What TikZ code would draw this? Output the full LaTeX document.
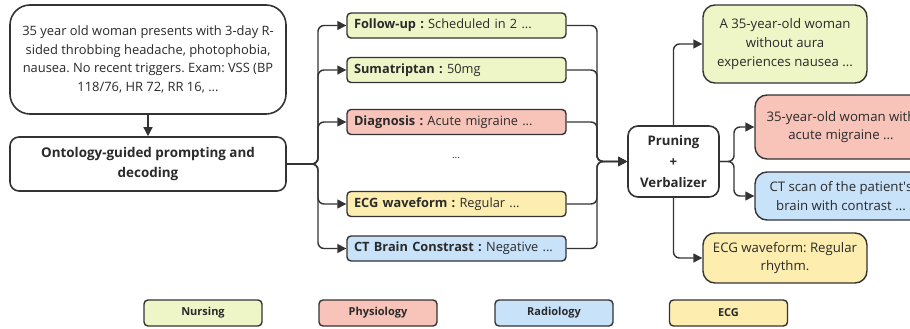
\documentclass[tikz,border=0pt]{standalone}
\usepackage{fontspec}
\setmainfont{Open Sans}
\usetikzlibrary{arrows.meta}
\frenchspacing
\definecolor{cnurse}{HTML}{EEF6C8}
\definecolor{cphys}{HTML}{F8C4BA}
\definecolor{crad}{HTML}{C8E2FA}
\definecolor{cecg}{HTML}{FDEEB0}
\definecolor{cline}{HTML}{333333}
\definecolor{ctext}{HTML}{2A2A2A}
\begin{document}
\begin{tikzpicture}[x=1pt,y=-1pt,text=ctext,
  box/.style={draw=cline,line width=1.6pt,fill=white,align=center,inner sep=2pt},
  midbox/.style={draw=cline,line width=1.4pt,rounded corners=4pt,minimum width=219pt,minimum height=25pt,text width=205pt,align=left,inner xsep=7pt,font=\fontsize{12.8}{15}\selectfont},
  outbox/.style={draw=cline,line width=1.4pt,rounded corners=12pt,align=center,font=\fontsize{13.2}{18.8}\selectfont},
  legbox/.style={draw=cline,line width=1.4pt,rounded corners=4pt,minimum width=118pt,minimum height=26pt,font=\fontsize{11}{12}\selectfont\bfseries},
  conn/.style={draw=cline,line width=1.4pt,rounded corners=6pt},
  arr/.style={conn,-{Triangle[length=9pt,width=9pt]}}
]
\useasboundingbox (0,0) rectangle (910,329);
\clip (0,0) rectangle (910,329);

\node[box,rounded corners=20pt,minimum width=276pt,minimum height=109pt,font=\fontsize{12.9}{18.5}\selectfont] (top) at (148,59.5)
  {35 year old woman presents with 3-day R-\\sided throbbing headache, photophobia,\\nausea. No recent triggers. Exam: VSS (BP\\118/76, HR 72, RR 16, ...};
\node[box,rounded corners=9pt,minimum width=276pt,minimum height=54pt,font=\fontsize{13.4}{20}\selectfont\bfseries] (onto) at (148,164)
  {Ontology-guided prompting and\\decoding};
\draw[arr] (top.south) -- (onto.north);

\node[midbox,fill=cnurse] (fu) at (456.5,25.5) {\textbf{Follow-up :}\ Scheduled in 2 ...};
\node[midbox,fill=cnurse] (su) at (456.5,70) {\textbf{Sumatriptan :}\ 50mg};
\node[midbox,fill=cphys] (dg) at (456.5,122) {\textbf{Diagnosis :}\ Acute migraine ...};
\node[font=\fontsize{10}{12}\selectfont] (dots) at (456,158) {...};
\node[midbox,fill=cecg] (ew) at (456.5,204) {\textbf{ECG waveform :}\ Regular ...};
\node[midbox,fill=crad] (ct) at (456.5,248.5) {\textbf{CT Brain Constrast :}\ Negative ...};

\coordinate (j) at (318,164);
\foreach \n in {fu,su,dg,ew,ct}{
  \draw[arr] (onto.east) -- (j) |- (\n.west);
}

\node[box,rounded corners=10pt,minimum width=91pt,minimum height=71pt,font=\fontsize{13.2}{21}\selectfont\bfseries] (pr) at (673.5,161.5)
  {Pruning\\+\\Verbalizer};

\coordinate (k) at (597,161.5);
\foreach \n in {fu,su,dg,ew,ct}{
  \draw[arr] (\n.east) -| (k) -- (pr.west);
}

\node[outbox,fill=cnurse,minimum width=164pt,minimum height=78pt] (ao) at (785,44)
  {A 35-year-old woman\\without aura\\experiences nausea ...};
\node[outbox,fill=cphys,minimum width=172pt,minimum height=64pt] (po) at (841,127)
  {35-year-old woman with\\acute migraine ...};
\node[outbox,fill=crad,minimum width=172pt,minimum height=48pt] (co) at (841,196)
  {CT scan of the patient\textquotesingle s\\brain with contrast ...};
\node[outbox,fill=cecg,minimum width=164pt,minimum height=50pt] (eo) at (785,258)
  {ECG waveform: Regular\\rhythm.};

\coordinate (m) at (734,161.5);
\draw[arr] (pr.north) |- (ao.west);
\draw[arr] (pr.south) |- (eo.west);
\draw[arr] (pr.east) -- (m) |- (po.west);
\draw[arr] (pr.east) -- (m) |- (co.west);

\node[legbox,fill=cnurse] (ln) at (203,313) {Nursing};
\node[legbox,fill=cphys] (lp) at (378,313) {Physiology};
\node[legbox,fill=crad] (lr) at (554,313) {Radiology};
\node[legbox,fill=cecg] (le) at (728.5,313) {ECG};
\end{tikzpicture}
\end{document}
